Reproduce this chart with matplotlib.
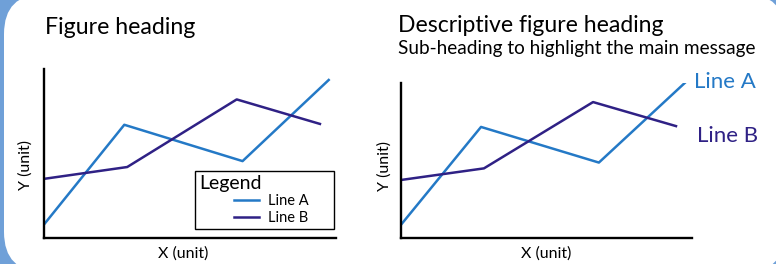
import matplotlib.pyplot as plt
from matplotlib.patches import FancyBboxPatch
from matplotlib.legend_handler import HandlerLine2D

plt.rcParams['font.family'] = ['Lato', 'DejaVu Sans']

# data (arbitrary units)
x_a = [0, 2.75, 6.8, 9.75]
y_a = [0.8, 6.7, 4.55, 9.35]
x_b = [0, 2.85, 6.6, 9.45]
y_b = [3.5, 4.2, 8.2, 6.75]

col_a = '#2479c6'
col_b = '#2f2185'

W, H = 776, 264
fig = plt.figure(figsize=(W / 100, H / 100), dpi=100)
fig.patch.set_facecolor('#6fa0d8')

# white rounded card on the blue background
card = FancyBboxPatch((0.04, -0.08), 7.81, 2.78,
                      boxstyle='round,pad=0,rounding_size=0.4',
                      transform=fig.dpi_scale_trans,
                      facecolor='white', edgecolor='none', zorder=-10)
fig.patches.append(card)


def px_axes(x0, x1, ytop, ybot):
    return fig.add_axes([x0 / W, (H - ybot) / H, (x1 - x0) / W, (ybot - ytop) / H])


def style(ax):
    ax.set_facecolor('none')
    for s in ['top', 'right']:
        ax.spines[s].set_visible(False)
    for s in ['left', 'bottom']:
        ax.spines[s].set_linewidth(1.7)
        ax.spines[s].set_color('black')
    ax.set_xticks([])
    ax.set_yticks([])
    ax.set_xlabel('X (unit)', fontsize=11.5)
    ax.set_ylabel('Y (unit)', fontsize=11.5)


# left chart: classic legend box
ax1 = px_axes(44, 336, 69, 238)
style(ax1)
ax1.plot(x_a, y_a, color=col_a, lw=1.8, label='Line A')
ax1.plot(x_b, y_b, color=col_b, lw=1.8, label='Line B')
ax1.set_xlim(0, 10)
ax1.set_ylim(0, 10)
ax1.yaxis.set_label_coords(-0.04, 0.43)
ax1.xaxis.set_label_coords(0.478, -0.048)
leg = ax1.legend(loc='lower left', bbox_to_anchor=(0.517, 0.053, 0.476, 0.1),
                 mode='expand', title='Legend', alignment='left', fancybox=False,
                 edgecolor='black', framealpha=1, fontsize=10.5,
                 title_fontsize=14, handlelength=4.09, handletextpad=0.65,
                 borderpad=0.3, labelspacing=0.15, borderaxespad=0,
                 handler_map={plt.Line2D: HandlerLine2D(xpad=2.37)})
leg.get_frame().set_linewidth(1.0)

fig.text(45 / W, (H - 34) / H, 'Figure heading', fontsize=16.7, va='baseline')

# right chart: direct labels
ax2 = px_axes(401, 692, 83, 238)
style(ax2)
ax2.plot(x_a, y_a, color=col_a, lw=1.8)
ax2.plot(x_b, y_b, color=col_b, lw=1.8)
ax2.set_xlim(0, 10)
ax2.set_ylim(0, max(y_a))
ax2.yaxis.set_label_coords(-0.031, 0.467)
ax2.xaxis.set_label_coords(0.5, -0.053)
ax2.annotate('Line A', xy=(x_a[-1], y_a[-1]), xytext=(7, 0.5),
             textcoords='offset points', va='center', color=col_a, fontsize=16)
ax2.annotate('Line B', xy=(x_b[-1], y_b[-1]), xytext=(15, -7),
             textcoords='offset points', va='center', color=col_b, fontsize=16)

fig.text(398 / W, (H - 32) / H, 'Descriptive figure heading', fontsize=16.6, va='baseline')
fig.text(398 / W, (H - 54) / H, 'Sub-heading to highlight the main message', fontsize=13.7, va='baseline')

fig.savefig('out.png', dpi=100, facecolor=fig.get_facecolor())
